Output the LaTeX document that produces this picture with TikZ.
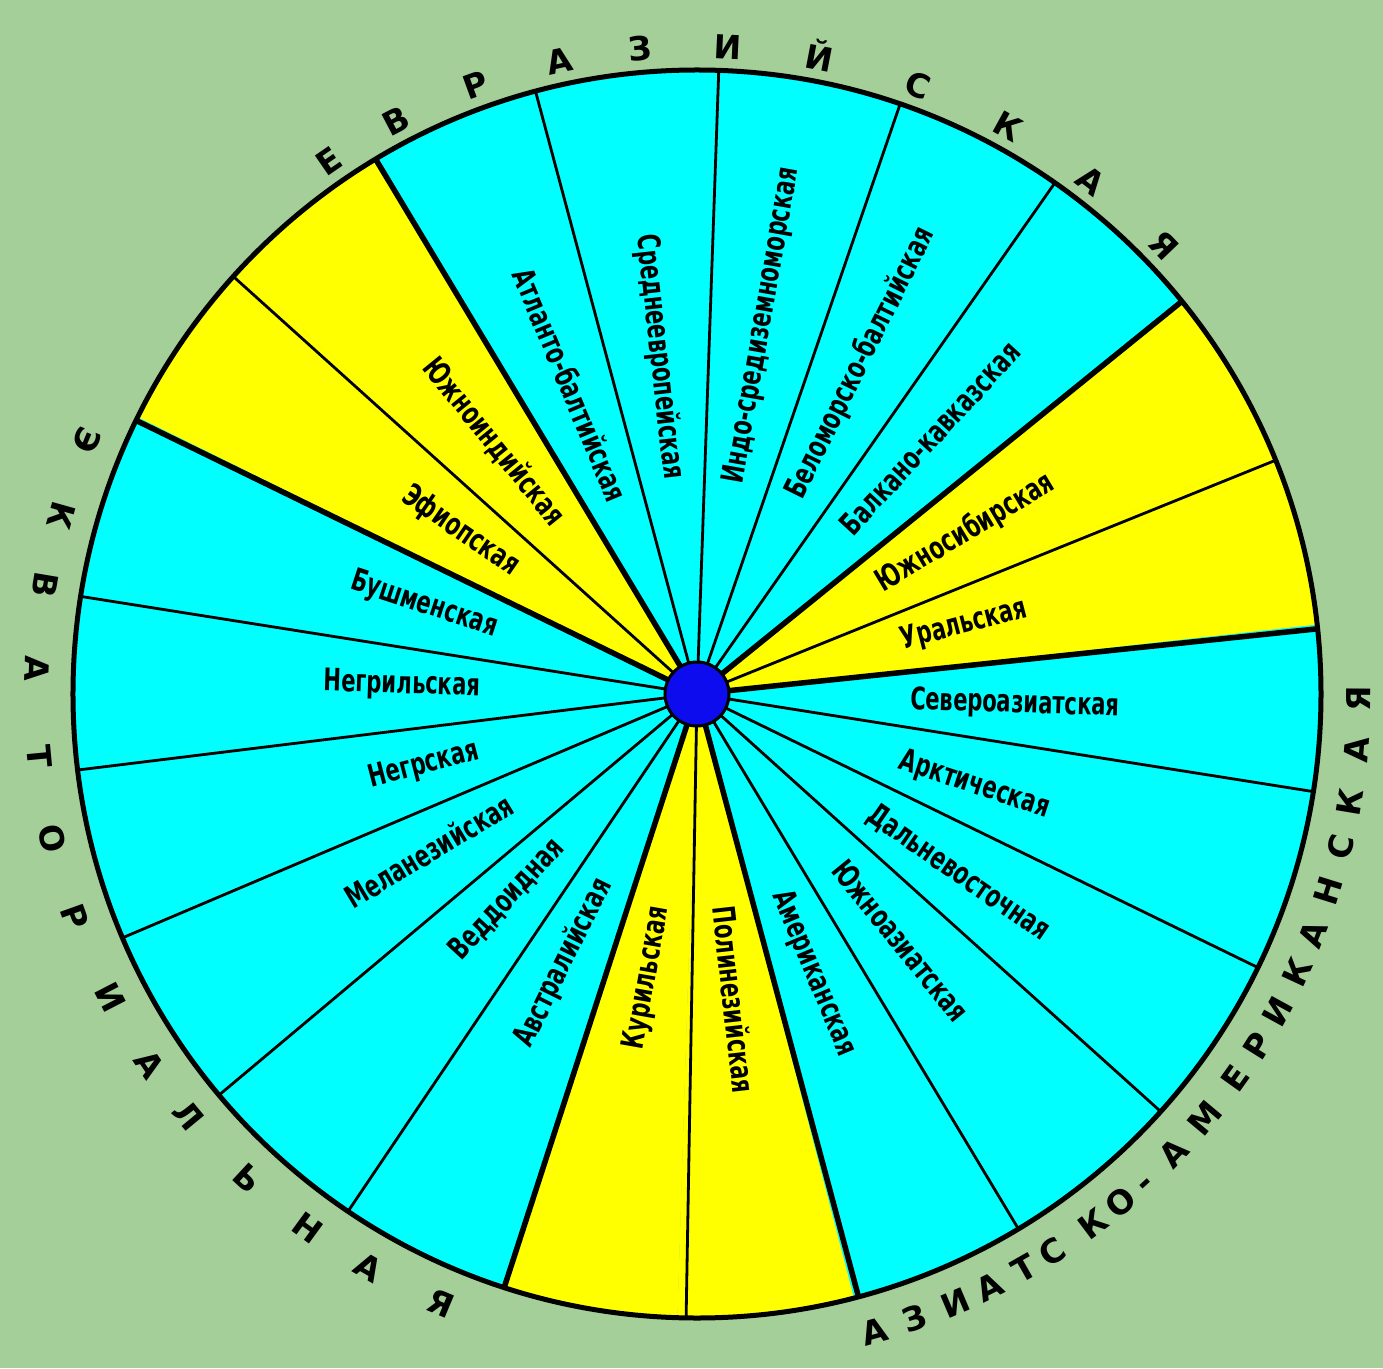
\documentclass[tikz,border=0pt]{standalone}
\usepackage{fontspec}
\newfontfamily\labfont{DejaVu Sans}[FakeStretch=0.68]
\newfontfamily\ringfont{DejaVu Sans}
\definecolor{bg}{RGB}{165,207,152}
\definecolor{cy}{RGB}{0,255,255}
\definecolor{ye}{RGB}{255,255,0}
\definecolor{dotblue}{RGB}{12,12,238}
\begin{document}
\begin{tikzpicture}[x=1pt,y=1pt,
  thinspoke/.style={line width=2.8pt},
  thickspoke/.style={line width=5.5pt},
  seclabel/.style={font={\labfont\bfseries\fontsize{31}{31}\selectfont}, inner sep=0pt, text height=23pt, text depth=6pt},
  ringletter/.style={font={\ringfont\bfseries\fontsize{33}{33}\selectfont}, inner sep=0pt, text height=25pt, text depth=0pt},
  rimstyle/.style={circle, draw, line width=5pt, minimum size=1248pt, inner sep=0pt, outer sep=0pt},
  hubstyle/.style={circle, fill=dotblue, draw=black, line width=3pt, minimum size=64pt, inner sep=0pt}
]
\fill[bg] (-697,-674) rectangle (686,694);
\useasboundingbox (-697,-674) rectangle (686,694);
\coordinate (o) at (0,0);
% sectors
\foreach \j/\col in {0/cy,1/cy,2/cy,3/ye,4/ye,5/cy,6/cy,7/cy,8/cy,9/cy,10/ye,11/ye,12/cy,13/cy,14/cy,15/cy,16/cy,17/cy,18/ye,19/ye,20/cy,21/cy}{
  \pgfmathsetmacro\a{88.2-\j*360/22}
  \pgfmathsetmacro\b{\a-360/22}
  \fill[\col] (o) -- (\a:624) arc[start angle=\a, end angle=\b, radius=624] -- cycle;
}
\node[rimstyle] (rim) at (o) {};
% spokes
\foreach \k in {0,1,2,4,6,7,8,9,11,13,14,15,16,17,19,21}{
  \pgfmathsetmacro\a{88.2-\k*360/22}
  \draw[thinspoke] (o) -- (rim.\a);
}
\foreach \k in {3,5,10,12,18,20}{
  \pgfmathsetmacro\a{88.2-\k*360/22}
  \draw[thickspoke] (o) -- (rim.\a);
}
\node[hubstyle] (hub) at (o) {};
% sector labels
\foreach \j/\r/\txt in {0/374/Индо-средиземноморская,1/369/Беломорско-балтийская,2/346/Балкано-кавказская,3/313/Южносибирская,4/276/Уральская,5/318/Североазиатская,6/292/Арктическая,7/317/Дальневосточная,8/320/Южноазиатская,9/303/Американская,10/308/Полинезийская,11/288/Курильская,12/300/Австралийская,13/280/Веддоидная,14/311/Меланезийская,15/282/Негрская,16/295/Негрильская,17/287/Бушменская,18/287/Эфиопская,19/324/Южноиндийская,20/334/Атланто-балтийская,21/339/Среднеевропейская}{
  \pgfmathsetmacro\m{88.2-(\j+0.5)*360/22}
  \pgfmathsetmacro\rot{cos(\m)>0 ? \m : \m+180}
  \node[seclabel, rotate=\rot] (l\j) at (\m:\r) {\txt};
}
% outer ring letters
\foreach \a/\c [count=\n] in {124.6/Е,117.7/В,110.0/Р,102.3/А,95.0/З,87.3/И,79.1/Й,70.0/С,61.3/К,52.5/А,43.8/Я}{
  \node[ringletter, rotate=\a-90] (ev\n) at (\a:648) {\c};
}
\foreach \a/\c [count=\n] in {157.4/Э,164.3/К,170.5/В,177.8/А,185.4/Т,192.6/О,199.7/Р,207.3/И,214.1/А,219.6/Л,227.1/Ь,233.9/Н,240.2/А,247.2/Я}{
  \node[ringletter, rotate=\a+90] (eq\n) at (\a:660) {\c};
}
\foreach \a/\c [count=\n] in {-74.4/А,-70.8/З,-67.0/И,-63.7/А,-60.3/Т,-57.5/С,-53.2/К,-50.2/О,-47.5/-,-43.9/А,-39.9/М,-35.5/Е,-32.1/Р,-28.7/И,-24.9/К,-21.3/А,-17.3/Н,-13.4/С,-9.4/К,-4.8/А,-0.4/Я}{
  \node[ringletter, rotate=\a+90] (aa\n) at (\a:661) {\c};
}
\end{tikzpicture}
\end{document}
